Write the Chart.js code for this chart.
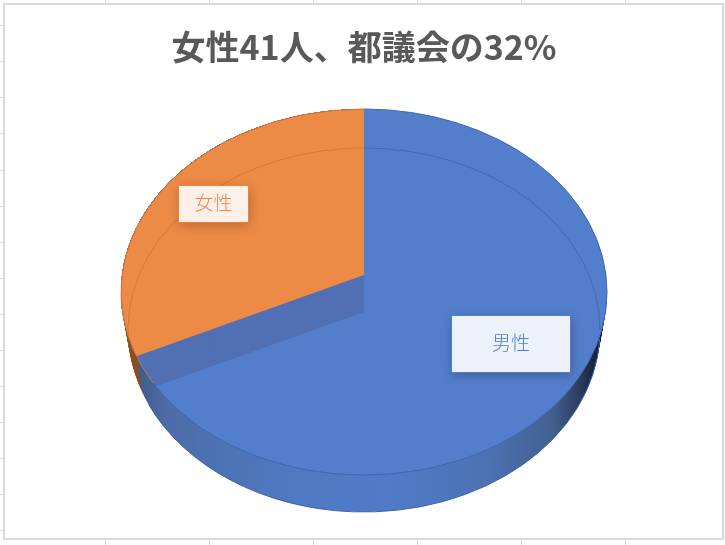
<!DOCTYPE html>
<html lang="ja">
<head>
<meta charset="utf-8">
<title>女性41人、都議会の32%</title>
<style>
  html, body { margin: 0; padding: 0; background: #fff; }
  canvas { display: block; }
</style>
<script src="https://cdn.jsdelivr.net/npm/chart.js@4/dist/chart.umd.min.js"></script>
</head>
<body>
<canvas id="pie" width="725" height="545"></canvas>
<script>
// chart values
const titleText = '女性41人、都議会の32%';
const categories = ['男性', '女性'];
const seats = [86, 41];

// sheet gridlines showing round the chart frame
const sheetColumns = [105, 209, 313, 417, 521, 625];
const sheetRows = [25, 61, 97, 133, 170, 206, 242, 278, 314, 350, 386, 422, 458, 494, 530];

// fake 3D pie: top and bottom rims, apex sits above the rim centre (perspective)
const midX = 364;
const topRim = { cy: 292, rx: 243, ry: 183, apex: 275 };
const baseRim = { cy: 330, rx: 236, ry: 182, apex: 312 };
const squash = 0.725;
const overscan = 1.35;

const faceColors = ['#527ECB', '#ED8A46'];
const stripColor = '#5270B4';
const orangeWall = '#8E5022';

const labelBoxes = [
  { x: 452, y: 316, w: 118, h: 56, fill: '#ECF1FA', edge: '#4F7BC9', text: '#527ECB' },
  { x: 179, y: 186, w: 69, h: 36, fill: '#FDF0E8', edge: '#EF8230', text: '#EE8A46' }
];

const lerp = (a, b, t) => a + (b - a) * t;

function rimAt(t) {
  return {
    cy: lerp(baseRim.cy, topRim.cy, t),
    rx: lerp(baseRim.rx, topRim.rx, t),
    ry: lerp(baseRim.ry, topRim.ry, t),
    apex: lerp(baseRim.apex, topRim.apex, t)
  };
}

// draw one slice through its own arc element, squashed onto a rim and clipped to it
function paintSlice(ctx, arc, rim, clipRim, fill) {
  const sx = rim.rx * overscan / arc.outerRadius;
  ctx.save();
  ctx.beginPath();
  ctx.ellipse(midX, clipRim.cy, clipRim.rx, clipRim.ry, 0, 0, Math.PI * 2);
  ctx.clip();
  ctx.translate(midX, rim.apex);
  ctx.scale(sx, sx * squash);
  ctx.translate(-arc.x, -arc.y);
  const saved = arc.options;
  const paint = typeof fill === 'function' ? fill(ctx, arc, sx) : fill;
  arc.options = Object.assign({}, saved, { backgroundColor: paint, borderWidth: 0 });
  arc.draw(ctx);
  arc.options = saved;
  ctx.restore();
}

function wallGradient(ctx, arc, sx) {
  const toLocal = px => arc.x + (px - midX) / sx;
  const g = ctx.createLinearGradient(toLocal(128), 0, toLocal(600), 0);
  g.addColorStop(0, '#3A5580');
  g.addColorStop(0.08, '#4C6CA6');
  g.addColorStop(0.3, '#4E78BE');
  g.addColorStop(0.55, '#4F7BC8');
  g.addColorStop(0.76, '#4C72B4');
  g.addColorStop(0.9, '#43608F');
  g.addColorStop(0.96, '#2A3A5C');
  g.addColorStop(1, '#141B2C');
  return g;
}

function strokeRim(ctx, rim, from, to, color, width) {
  ctx.beginPath();
  ctx.ellipse(midX, rim.cy, rim.rx, rim.ry, 0, from, to);
  ctx.strokeStyle = color;
  ctx.lineWidth = width;
  ctx.stroke();
}

const pie3d = {
  id: 'pie3d',
  beforeDraw(chart) {
    const ctx = chart.ctx;
    ctx.save();
    ctx.strokeStyle = '#D9D9D9';
    ctx.lineWidth = 1;
    ctx.beginPath();
    sheetColumns.forEach(x => {
      ctx.moveTo(x + 0.5, 0); ctx.lineTo(x + 0.5, 4);
      ctx.moveTo(x + 0.5, 540); ctx.lineTo(x + 0.5, 545);
    });
    sheetRows.forEach(y => {
      ctx.moveTo(0, y + 0.5); ctx.lineTo(4, y + 0.5);
    });
    ctx.stroke();
    ctx.lineWidth = 2;
    ctx.strokeRect(4, 4, 719, 535);
    ctx.restore();
  },
  beforeDatasetsDraw(chart) {
    const ctx = chart.ctx;
    const [male, female] = chart.getDatasetMeta(0).data;
    const steps = 40;

    // side wall, bottom rim up to top rim
    for (let i = 0; i < steps; i++) {
      const rim = rimAt(i / steps);
      paintSlice(ctx, female, rim, rim, orangeWall);
      paintSlice(ctx, male, rim, rim, wallGradient);
    }

    // top face
    paintSlice(ctx, male, topRim, topRim, faceColors[0]);

    // inner cut wall, seen below the orange slice
    for (let i = 0; i < steps; i++) {
      paintSlice(ctx, female, rimAt(i / steps), topRim, stripColor);
    }
    paintSlice(ctx, female, topRim, topRim, faceColors[1]);

    // rim lines
    const pi = Math.PI;
    strokeRim(ctx, baseRim, pi - 0.08, 1.5 * pi, 'rgba(190,90,25,0.4)', 1);
    strokeRim(ctx, baseRim, 1.5 * pi, 2 * pi, 'rgba(45,75,140,0.4)', 1);
    strokeRim(ctx, topRim, -pi / 2, 2.62, '#3F68B2', 1);
    strokeRim(ctx, topRim, 2.62, 1.5 * pi, '#D2722E', 1);
    strokeRim(ctx, baseRim, 0.05, 2.72, '#3E64AA', 1);

    // slice labels
    labelBoxes.forEach((box, i) => {
      ctx.save();
      ctx.shadowColor = 'rgba(0,0,0,0.22)';
      ctx.shadowBlur = 10;
      ctx.shadowOffsetX = 1;
      ctx.shadowOffsetY = 3;
      ctx.fillStyle = box.edge;
      ctx.fillRect(box.x - 1, box.y - 1, box.w + 2, box.h + 2);
      ctx.restore();
      ctx.fillStyle = box.fill;
      ctx.fillRect(box.x, box.y, box.w, box.h);
      ctx.fillStyle = box.text;
      ctx.font = '300 19px "Noto Sans CJK JP"';
      ctx.textAlign = 'center';
      ctx.textBaseline = 'middle';
      ctx.fillText(categories[i], box.x + box.w / 2, box.y + box.h / 2 - 1);
    });
    return false;
  }
};

new Chart(document.getElementById('pie'), {
  type: 'pie',
  data: {
    labels: categories,
    datasets: [{ data: seats, backgroundColor: faceColors, borderWidth: 0 }]
  },
  options: {
    responsive: false,
    animation: false,
    events: [],
    layout: { padding: { left: 3 } },
    plugins: {
      legend: { display: false },
      tooltip: { enabled: false },
      title: {
        display: true,
        text: titleText,
        color: '#595959',
        font: { family: '"Noto Sans CJK JP"', size: 34, weight: 'bold' },
        padding: { top: 27, bottom: 7 }
      }
    }
  },
  plugins: [pie3d]
});
</script>
</body>
</html>
